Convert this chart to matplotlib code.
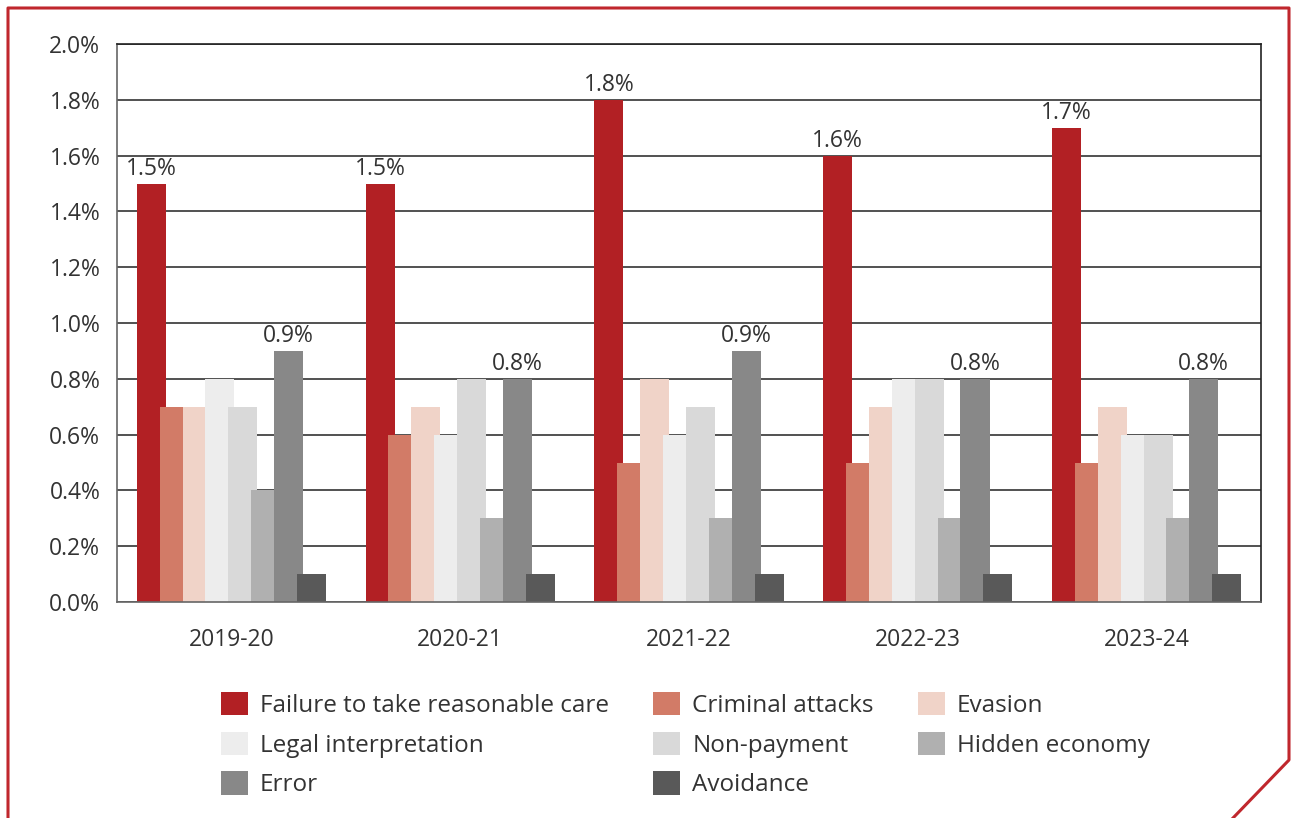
import matplotlib
matplotlib.use("Agg")
import matplotlib.pyplot as plt
from matplotlib.lines import Line2D
from matplotlib.patches import Patch
import numpy as np

plt.rcParams['font.family'] = ['Open Sans', 'DejaVu Sans']

years = ["2019-20", "2020-21", "2021-22", "2022-23", "2023-24"]
categories = ["Failure to take reasonable care", "Criminal attacks", "Evasion",
              "Legal interpretation", "Non-payment", "Hidden economy",
              "Error", "Avoidance"]
failure_care = [1.5, 1.5, 1.8, 1.6, 1.7]
criminal = [0.7, 0.6, 0.5, 0.5, 0.5]
evasion = [0.7, 0.7, 0.8, 0.7, 0.7]
legal = [0.8, 0.6, 0.6, 0.8, 0.6]
non_payment = [0.7, 0.8, 0.7, 0.8, 0.6]
hidden = [0.4, 0.3, 0.3, 0.3, 0.3]
error = [0.9, 0.8, 0.9, 0.8, 0.8]
avoidance = [0.1, 0.1, 0.1, 0.1, 0.1]
series = [failure_care, criminal, evasion, legal, non_payment, hidden, error, avoidance]
colors = ["#B22024", "#D27B67", "#F0D3C8", "#EDEDED", "#D9D9D9", "#B0B0B0", "#888888", "#595959"]
labelled = {0, 6}

W, H = 1292, 818
fig = plt.figure(figsize=(W / 100, H / 100), dpi=100)
ax = fig.add_axes([117 / W, 1 - 602 / H, (1261 - 117) / W, (602 - 44) / H])

txt = "#333333"
fs = 16.5
x = np.arange(len(years))
step = 0.1
width = 0.127
for i, (vals, c) in enumerate(zip(series, colors)):
    pos = x + (i - 3.5) * step
    ax.bar(pos, vals, width=width, color=c, zorder=2 + i * 0.01, label=categories[i])
    if i in labelled:
        for p, v in zip(pos, vals):
            ax.text(p, v + 0.01, f"{v:.1f}%", ha="center", va="bottom",
                    fontsize=fs, color=txt, zorder=5)

ax.set_xlim(-0.5, len(years) - 0.5)
ax.set_ylim(0, 2.0)
yt = np.arange(0, 2.01, 0.2)
ax.set_yticks(yt)
ax.set_yticklabels([f"{v:.1f}%" for v in yt], fontsize=fs, color=txt)
ax.set_xticks(x)
ax.set_xticklabels(years, fontsize=fs, color=txt)
ax.tick_params(axis="both", length=0)
ax.tick_params(axis="y", pad=12)
ax.tick_params(axis="x", pad=19)
ax.yaxis.grid(True, color="#333333", linewidth=1.2, zorder=0)
ax.set_axisbelow(True)
for s in ax.spines.values():
    s.set_color("#222222")
    s.set_linewidth(1.2)
ax.spines["left"].set_color("#666666")
ax.spines["bottom"].set_color("#666666")

# legend laid out row by row across three columns
order = [0, 3, 6, 1, 4, 7, 2, 5]
handles = [Patch(facecolor=colors[k], edgecolor="none") for k in order]
names = [categories[k] for k in order]
leg = fig.legend(handles, names, ncol=3, loc="upper left",
                 bbox_to_anchor=(199 / W, 1 - 670 / H), frameon=False,
                 fontsize=17.5, handlelength=1.1, handleheight=1.1,
                 handletextpad=0.5, columnspacing=1.83, labelspacing=0.57,
                 labelcolor=txt)

# Red frame with clipped bottom-right corner
fx = [8, 8, 1289, 1289, 1233]
fy = [818, 8, 8, 760, 818]
fig.add_artist(Line2D([v / W for v in fx], [1 - v / H for v in fy],
                      color="#C0272D", linewidth=2.2))

fig.savefig("out.png", dpi=100)
